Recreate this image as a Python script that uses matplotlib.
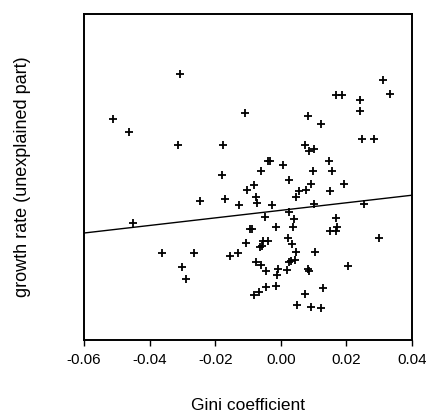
import numpy as np
import matplotlib
matplotlib.use('Agg')
import matplotlib.pyplot as plt

plt.rcParams['font.family'] = ['Liberation Sans', 'DejaVu Sans']

# Gini coefficient (residual) vs growth rate (unexplained part)
gini = [-0.0307, -0.0512, -0.0463, -0.0313, -0.0108, -0.0178, -0.0039, -0.0033,
        0.0005, -0.0061, -0.0181, 0.0026, 0.0310, 0.0334, 0.0167, 0.0185,
        0.0242, 0.0241, 0.0083, 0.0121, 0.0248, 0.0284, 0.0075, 0.0085,
        0.0101, 0.0148, 0.0098, 0.0155, -0.0452, -0.0364, -0.0266, -0.0303,
        -0.0289, 0.0054, -0.0082, -0.0102, 0.0047, -0.0075, -0.0072, -0.0247,
        -0.0171, -0.0127, -0.0026, 0.0025, -0.0049, 0.0039, 0.0037, -0.0095,
        -0.0087, -0.0016, 0.0021, 0.0035, -0.0107, -0.0056, -0.0038, -0.0063,
        -0.0059, 0.0047, -0.0156, -0.0131, 0.0043, 0.0032, 0.0024, -0.0076,
        -0.0060, -0.0044, -0.0008, -0.0011, 0.0018, -0.0045, -0.0014, -0.0066,
        -0.0082, 0.0048, 0.0092, 0.0076, 0.0150, 0.0192, 0.0100, 0.0254,
        0.0167, 0.0150, 0.0167, 0.0172, 0.0299, 0.0104, 0.0205, 0.0085,
        0.0082, 0.0127, 0.0073, 0.0092, 0.0123]
growth = [0.0103, 0.0058, 0.0045, 0.0032, 0.0064, 0.0032, 0.0016, 0.0016,
          0.0012, 0.0006, 0.0002, -0.0003, 0.0097, 0.0083, 0.0082, 0.0082,
          0.0077, 0.0066, 0.0061, 0.0053, 0.0038, 0.0038, 0.0032, 0.0026,
          0.0028, 0.0016, 0.0006, 0.0006, -0.0046, -0.0076, -0.0076, -0.0090,
          -0.0102, -0.0014, -0.0008, -0.0013, -0.0020, -0.0020, -0.0026, -0.0024,
          -0.0022, -0.0028, -0.0028, -0.0035, -0.0040, -0.0042, -0.0050, -0.0052,
          -0.0052, -0.0050, -0.0061, -0.0067, -0.0066, -0.0064, -0.0064, -0.0070,
          -0.0069, -0.0075, -0.0079, -0.0076, -0.0083, -0.0084, -0.0085, -0.0085,
          -0.0088, -0.0094, -0.0092, -0.0098, -0.0093, -0.0110, -0.0109, -0.0115,
          -0.0118, -0.0128, -0.0007, -0.0013, -0.0014, -0.0007, -0.0027, -0.0027,
          -0.0041, -0.0054, -0.0054, -0.0050, -0.0061, -0.0075, -0.0089, -0.0094,
          -0.0092, -0.0111, -0.0117, -0.0130, -0.0131]

# regression line as printed (intercept, slope)
fit = (-0.00333, 0.0378)

fig = plt.figure(figsize=(4.27, 4.19), dpi=100)
ax = fig.add_axes([0.197, 0.1885, 0.768, 0.778])

ax.plot(gini, growth, linestyle='none', marker='+', color='black',
        markersize=5.5, markeredgewidth=1.3)

xl = np.array([-0.06, 0.04])
ax.plot(xl, fit[0] + fit[1] * xl, color='black', linewidth=1.0)

ax.set_xlim(-0.06, 0.04)
ax.set_ylim(-0.0163, 0.0163)
ax.set_xticks([-0.06, -0.04, -0.02, 0.00, 0.02, 0.04])
ax.set_xticklabels(['-0.06', '-0.04', '-0.02', '0.00', '0.02', '0.04'])
ax.tick_params(axis='x', direction='out', length=4, width=1.0, labelsize=11, pad=5)
ax.tick_params(axis='y', left=False, labelleft=False)
for s in ax.spines.values():
    s.set_linewidth(1.4)

ax.set_xlabel('Gini coefficient', fontsize=12.5, labelpad=23)
ax.set_ylabel('growth rate (unexplained part)', fontsize=13, labelpad=38)

fig.savefig('out.png', dpi=100)
